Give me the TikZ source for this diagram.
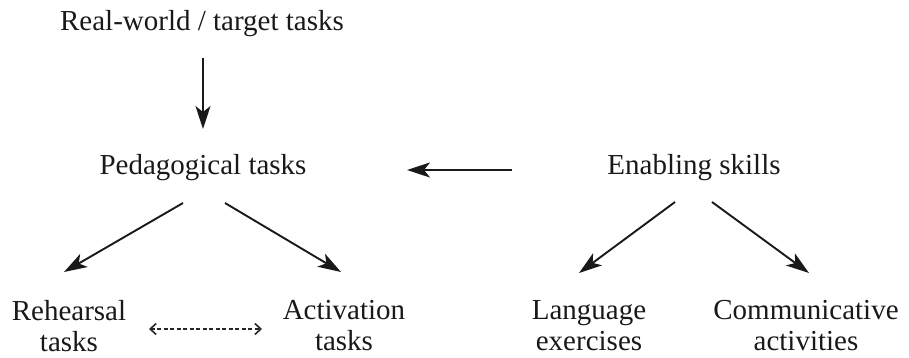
\documentclass[tikz,border=0pt]{standalone}
\usepackage{fontspec}
\setmainfont{Liberation Serif}
\usetikzlibrary{arrows.meta,calc}
\begin{document}
\begin{tikzpicture}[x=1pt,y=-1pt,
  lbl/.style={inner sep=0pt,align=center,text=black!90,font=\fontsize{29}{31}\selectfont},
  arr/.style={draw=black!90,line width=1.9pt,-{Stealth[length=23pt,width=15pt,inset=6pt]}},
  darr/.style={draw=black!85,line width=1.6pt,dash pattern=on 4pt off 2.5pt,{Straight Barb[length=6pt,width=11pt,line width=1.6pt]}-{Straight Barb[length=6pt,width=11pt,line width=1.6pt]}}]
\useasboundingbox (0,0) rectangle (909,357);
\node[lbl] (real) at (202,24) {Real-world / target tasks};
\node[lbl] (ped) at (203,168) {Pedagogical tasks};
\node[lbl] (en) at (694,168) {Enabling skills};
\node[lbl] (reh) at (69,326) {Rehearsal\\tasks};
\node[lbl] (act) at (344,326) {Activation\\tasks};
\node[lbl] (lang) at (589,326) {Language\\exercises};
\node[lbl] (comm) at (806,326) {Communicative\\activities};
\coordinate (v1) at (203,58);
\coordinate (v2) at (203,129);
\coordinate (h1) at (512,170);
\coordinate (h2) at (407,170);
\coordinate (d1) at (149,329);
\coordinate (d2) at (262,329);
\coordinate (p1) at (183,203);
\coordinate (p2) at (225,203);
\coordinate (e1) at (675,202);
\coordinate (e2) at (712,202);
\coordinate (t1) at (64,272);
\coordinate (t2) at (341,272);
\coordinate (t3) at (579,273);
\coordinate (t4) at (809,273);
\draw[arr] (v1) -- (v2);
\draw[arr] (h1) -- (h2);
\draw[arr] (p1) -- (t1);
\draw[arr] (p2) -- (t2);
\draw[arr] (e1) -- (t3);
\draw[arr] (e2) -- (t4);
\draw[darr] (d1) -- (d2);
\end{tikzpicture}
\end{document}
